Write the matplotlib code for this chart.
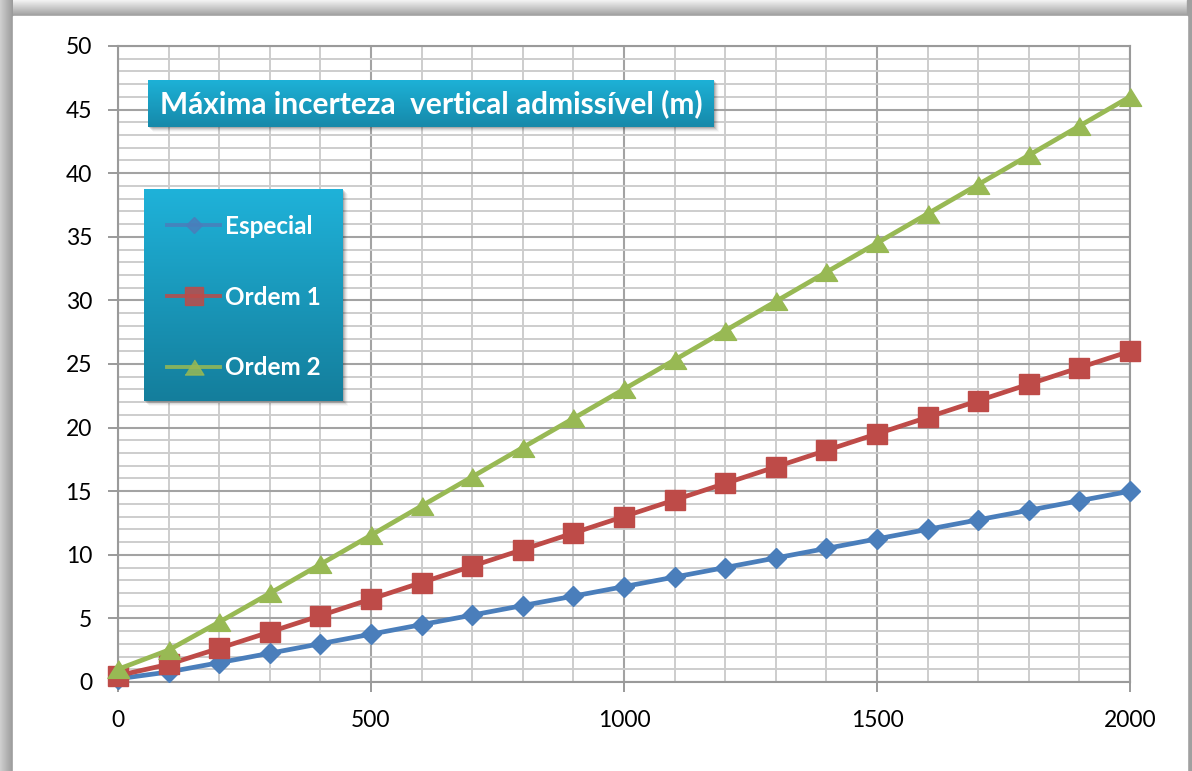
import numpy as np
import matplotlib
matplotlib.use("Agg")
import matplotlib.pyplot as plt
from matplotlib.patches import Rectangle
from matplotlib.colors import to_rgb

# Depth (m) and maximum admissible vertical uncertainty (m) per survey order
depth = [0, 100, 200, 300, 400, 500, 600, 700, 800, 900, 1000,
         1100, 1200, 1300, 1400, 1500, 1600, 1700, 1800, 1900, 2000]
especial = [0.25, 0.79, 1.52, 2.26, 3.01, 3.76, 4.51, 5.26, 6.01, 6.75, 7.50,
            8.25, 9.00, 9.75, 10.50, 11.25, 12.00, 12.75, 13.50, 14.25, 15.00]
ordem1 = [0.50, 1.39, 2.65, 3.93, 5.22, 6.52, 7.82, 9.11, 10.41, 11.71, 13.01,
          14.31, 15.61, 16.91, 18.21, 19.51, 20.81, 22.11, 23.41, 24.71, 26.00]
ordem2 = [1.00, 2.51, 4.71, 6.97, 9.25, 11.54, 13.84, 16.13, 18.43, 20.72, 23.02,
          25.32, 27.62, 29.92, 32.22, 34.51, 36.81, 39.11, 41.41, 43.71, 46.01]
series_names = ["Especial", "Ordem 1", "Ordem 2"]
title_text = "Máxima incerteza  vertical admissível (m)"
x_ticks = [0, 500, 1000, 1500, 2000]
y_ticks = list(range(0, 51, 5))

plt.rcParams['font.family'] = ['Lato', 'DejaVu Sans']

W, H = 1192, 771
fig = plt.figure(figsize=(W / 100, H / 100), dpi=100)


def vgrad(axh, x0, y0, x1, y1, c_top, c_bot, z):
    t = np.linspace(0, 1, 128)[:, None, None]
    a = np.array(to_rgb(c_top))[None, None, :]
    b = np.array(to_rgb(c_bot))[None, None, :]
    img = a * (1 - t) + b * t
    axh.imshow(img, extent=(x0, x1, y1, y0), aspect='auto', origin='upper',
               zorder=z, interpolation='bilinear')


def hgrad(axh, x0, y0, x1, y1, c_left, c_right, z):
    t = np.linspace(0, 1, 64)[None, :, None]
    a = np.array(to_rgb(c_left))[None, None, :]
    b = np.array(to_rgb(c_right))[None, None, :]
    img = a * (1 - t) + b * t
    axh.imshow(img, extent=(x0, x1, y1, y0), aspect='auto', origin='upper',
               zorder=z, interpolation='bilinear')


# Background with a grey picture frame
bg = fig.add_axes([0, 0, 1, 1], zorder=0)
bg.add_patch(Rectangle((0, 0), W, H, color='#b0b0b0', zorder=0))
vgrad(bg, 0, 0, W, 16, '#f4f4f4', '#9c9c9c', 1)
hgrad(bg, 0, 0, 13, H, '#d0d0d0', '#9a9a9a', 1)
bg.add_patch(Rectangle((1187, 0), 5, H, color='#a0a0a0', zorder=2))
bg.add_patch(Rectangle((13, 16), 1174, H - 16, color='white', zorder=3))
bg.set_xlim(0, W)
bg.set_ylim(H, 0)
bg.axis('off')

# Plot area
L, T, R, B = 118, 46, 1130, 682
ax = fig.add_axes([L / W, (H - B) / H, (R - L) / W, (B - T) / H], zorder=1)
ax.set_facecolor('white')
ax.set_xlim(0, 2000)
ax.set_ylim(0, 50)
ax.set_xticks(x_ticks)
ax.set_yticks(y_ticks)
ax.set_xticks(depth, minor=True)
ax.set_yticks(range(0, 51), minor=True)
ax.grid(which='minor', color='#cdcdcd', lw=1.4, zorder=0)
ax.grid(which='major', color='#a3a3a3', lw=1.5, zorder=0)
ax.set_axisbelow(True)
for s in ax.spines.values():
    s.set_color('#9a9a9a')
    s.set_linewidth(1.5)
ax.tick_params(which='major', length=7.2, width=1.4, color='#9a9a9a',
               labelsize=16.5, labelcolor='black')
ax.tick_params(which='minor', length=0)
ax.tick_params(axis='y', pad=11.5)
ax.tick_params(axis='x', pad=13)

line_colors = ['#4A7EBB', '#BE4B48', '#98B954']
tri = [(-1.0, -0.8), (1.0, -0.8), (0.0, 0.8)]
markers = ['D', 's', tri]
msizes = [10, 14.5, 16]
handles = []
for vals, name, c, m, ms in zip([especial, ordem1, ordem2], series_names,
                                line_colors, markers, msizes):
    h, = ax.plot(depth, vals, color=c, lw=3.4, marker=m, ms=ms,
                 markerfacecolor=c, markeredgecolor=c, label=name,
                 zorder=3, clip_on=False)
    handles.append(h)

# Overlay with title banner and legend box
ov = fig.add_axes([0, 0, 1, 1], zorder=5)
ov.patch.set_alpha(0)


def box(x0, y0, x1, y1, c_top, c_bot):
    for k, al in zip(range(1, 6), [0.16, 0.12, 0.09, 0.06, 0.03]):
        ov.add_patch(Rectangle((x0 + k, y0 + k), x1 - x0, y1 - y0,
                               color='#303030', alpha=al, lw=0, zorder=1))
    vgrad(ov, x0, y0, x1, y1, c_top, c_bot, 2)


box(148, 80, 714, 127, '#1DB1D7', '#1689A9')
ov.text(160, 104, title_text, color='white', fontsize=21.5, fontweight='bold',
        va='center', ha='left', zorder=4)

box(144, 189, 343, 401, '#1FB2D9', '#147E9C')

ov.set_xlim(0, W)
ov.set_ylim(H, 0)
ov.axis('off')

leg = ov.legend(handles, series_names, loc='upper left',
                bbox_to_anchor=(167, 215), bbox_transform=ov.transData,
                frameon=False, borderpad=0, borderaxespad=0,
                handlelength=2.2, handletextpad=0.17, labelspacing=1.96,
                markerscale=0.85,
                prop={'weight': 'bold', 'size': 17.5}, labelcolor='white')
for lh in leg.legend_handles:
    lh.set_linewidth(2.8)
    lh.set_alpha(0.85)
leg.set_zorder(6)

fig.savefig('out.png', dpi=100)
